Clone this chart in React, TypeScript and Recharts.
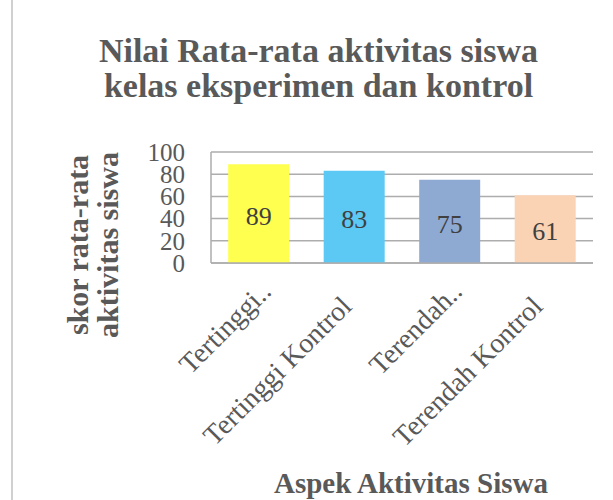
import { BarChart, Bar, XAxis, YAxis, CartesianGrid, Cell, LabelList, Label } from 'recharts';

const categories = ['Tertinggi..', 'Tertinggi Kontrol', 'Terendah..', 'Terendah Kontrol'];
const scores = [89, 83, 75, 61];
const barColors = ['#FFFF50', '#5BC9F3', '#8EAAD3', '#FAD2B4'];
const yTicks = [0, 20, 40, 60, 80, 100];

const data = categories.map((name, i) => ({ name, score: scores[i] }));

const serif = '"Liberation Serif", "Times New Roman", serif';
const textGray = '#595959';

// two-line rotated title for the value axis
const YTitle = () => (
  <text
    transform="rotate(-90)"
    textAnchor="middle"
    style={{ fontFamily: serif, fontWeight: 'bold', fontSize: 30 }}
    fill={textGray}
  >
    <tspan x={-245} y={88}>skor rata-rata</tspan>
    <tspan x={-245} y={118}>aktivitas siswa</tspan>
  </text>
);

const XTick = (props: any) => {
  const { x, y, payload } = props;
  // truncated labels sit a bit higher, like in the source chart
  const cut = String(payload.value).endsWith('..');
  const ax = cut ? x + 14 : x - 1;
  const ay = cut ? y + 22 : y + 37;
  return (
    <text
      x={ax}
      y={ay}
      transform={`rotate(-45, ${ax}, ${ay})`}
      textAnchor="end"
      style={{ fontFamily: serif, fontSize: 28 }}
      fill={textGray}
    >
      {payload.value}
    </text>
  );
};

export default function App() {
  return (
    <div
      style={{
        position: 'absolute',
        left: 0,
        top: 0,
        width: 613,
        height: 500,
        background: '#fff',
        fontFamily: serif,
      }}
    >
      <div style={{ position: 'absolute', left: 11, top: 0, width: 2, height: 500, background: '#d0d0d0' }} />
      <div
        style={{
          position: 'absolute',
          left: 0,
          top: 33,
          width: 637,
          textAlign: 'center',
          fontFamily: serif,
          fontWeight: 'bold',
          fontSize: 34,
          lineHeight: '35px',
          color: textGray,
        }}
      >
        Nilai Rata-rata aktivitas siswa
        <br />
        kelas eksperimen dan kontrol
      </div>
      <BarChart
        width={613}
        height={500}
        data={data}
        margin={{ top: 152, right: 20, bottom: 8, left: 171 }}
        barCategoryGap="18%"
        style={{ position: 'absolute', left: 0, top: 0 }}
      >
        <CartesianGrid vertical={false} stroke="#ADADAD" strokeWidth={1.5} />
        <XAxis
          dataKey="name"
          height={229}
          interval={0}
          axisLine={{ stroke: '#ADADAD', strokeWidth: 1.5 }}
          tickLine={false}
          tick={<XTick />}
        >
          <Label
            value="Aspek Aktivitas Siswa"
            position="insideBottom"
            offset={-1}
            dx={9}
            style={{ fontFamily: serif, fontWeight: 'bold', fontSize: 29 }}
            fill={textGray}
          />
        </XAxis>
        <YAxis
          domain={[0, 100]}
          ticks={yTicks}
          interval={0}
          width={40}
          axisLine={{ stroke: '#ADADAD', strokeWidth: 1.5 }}
          tickLine={false}
          tickSize={0}
          tickMargin={26}
          tick={{ fontSize: 25, fill: textGray, style: { fontFamily: serif } }}
          label={{ content: () => <YTitle /> }}
        />
        <Bar dataKey="score" isAnimationActive={false}>
          {data.map((d, i) => (
            <Cell key={d.name} fill={barColors[i]} />
          ))}
          <LabelList
            dataKey="score"
            position="center"
            dy={2}
            style={{ fontFamily: serif, fontSize: 26 }}
            fill="#404040"
          />
        </Bar>
      </BarChart>
    </div>
  );
}
